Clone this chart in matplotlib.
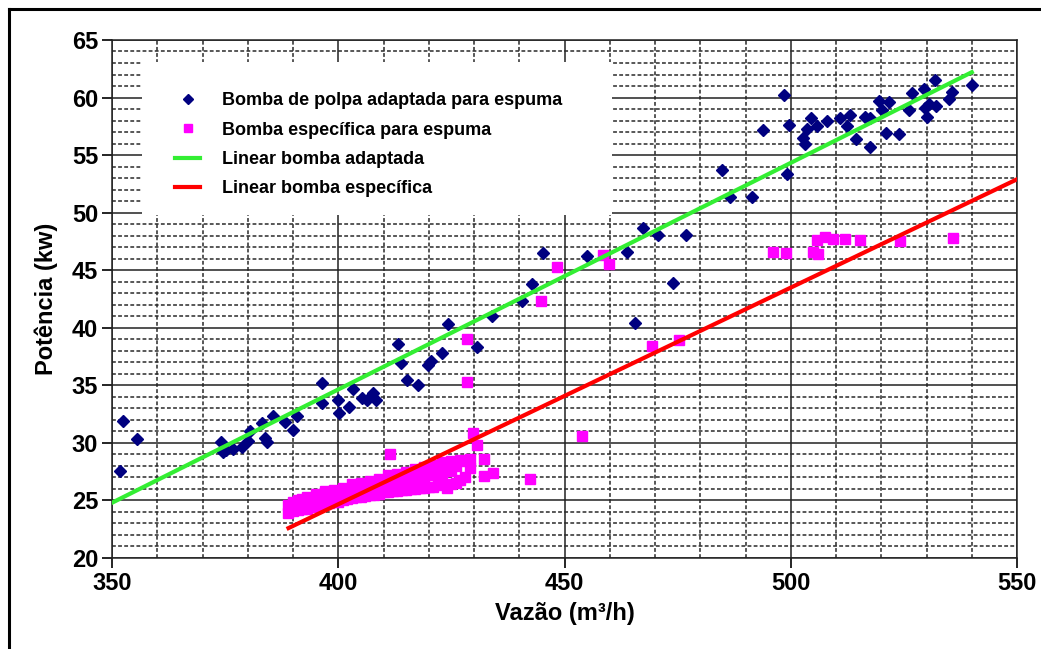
import numpy as np
import matplotlib.pyplot as plt
from matplotlib.lines import Line2D
from matplotlib.patches import Rectangle
from matplotlib.ticker import MultipleLocator

plt.rcParams['font.family'] = ['Liberation Sans', 'DejaVu Sans']
plt.rcParams['font.weight'] = 'bold'

# Bomba de polpa adaptada (blue diamonds)
adapt_x = [351.8, 352.4, 355.5, 374.1, 374.6, 375.3, 376.8, 378.7, 380.1, 380.5,
           383.1, 383.8, 384.2, 385.6, 388.2, 390.1, 390.8, 396.5, 396.3, 399.9,
           400.2, 402.3, 403.2, 405.2, 406.3, 407.6, 408.3, 413.3, 413.8, 415.1,
           417.7, 419.9, 420.6, 422.9, 424.3, 430.6, 433.9, 440.5, 442.9, 445.2,
           454.9, 463.7, 465.6, 467.3, 470.7, 474.0, 476.9, 484.9, 486.6, 491.4,
           493.9, 498.4, 499.1, 499.7, 502.6, 503.1, 503.5, 504.4, 505.7, 507.9,
           510.9, 512.5, 513.1, 514.4, 516.4, 517.5, 517.4, 519.6, 520.1, 521.8,
           521.1, 524.0, 526.2, 526.8, 529.5, 529.7, 530.0, 530.5, 532.0, 531.8,
           535.0, 535.6, 540.0]
adapt_y = [27.6, 31.9, 30.3, 30.1, 29.2, 29.4, 29.5, 29.6, 30.2, 31.0,
           31.7, 30.4, 30.1, 32.3, 31.8, 31.1, 32.3, 35.2, 33.5, 33.7,
           32.6, 33.1, 34.7, 33.9, 33.7, 34.3, 33.7, 38.6, 36.9, 35.5,
           35.0, 36.8, 37.1, 37.8, 40.3, 38.3, 41.0, 42.3, 43.8, 46.5,
           46.2, 46.6, 40.4, 48.7, 48.1, 43.9, 48.1, 53.7, 51.4, 51.4,
           57.2, 60.2, 53.4, 57.6, 56.5, 56.0, 57.3, 58.2, 57.5, 58.0,
           58.2, 57.5, 58.5, 56.4, 58.3, 58.2, 55.7, 59.7, 58.9, 59.6,
           56.9, 56.8, 58.9, 60.4, 60.7, 59.1, 58.3, 59.4, 59.3, 61.5,
           59.9, 60.5, 61.1]

# Bomba especifica (magenta squares): dense band + scattered points
spec_x = [389, 389, 390, 390, 391, 391, 391, 392, 392, 393, 393, 393,
          394, 394, 395, 395, 395, 396, 396, 397, 397, 397, 398, 398,
          399, 399, 399, 400, 400, 401, 401, 401, 402, 402, 403, 403, 403,
          404, 404, 405, 405, 405, 406, 406, 407, 407, 407, 408, 408,
          409, 409, 409, 410, 410, 411, 411, 411, 412, 412, 413, 413, 413,
          414, 414, 415, 415, 415, 416, 416, 417, 417, 417, 418, 418,
          419, 419, 419, 420, 420, 421, 421, 421, 422, 422, 423, 423, 423,
          424, 424, 425, 425, 425, 426, 426, 427, 427, 428, 428, 429, 429,
          411.5, 428.5, 428.5, 429.7, 430.6, 432.1, 432.1, 434.3, 442.4, 444.9,
          448.3, 453.8, 458.6, 459.9, 469.4, 475.2, 496.0, 499.0, 505.0, 506.0,
          505.7, 507.6, 509.4, 512.0, 515.3, 524.1, 535.8]
spec_y = [23.9, 24.6, 24.1, 24.9, 24.2, 24.6, 25.0, 24.3, 25.1, 24.3, 24.8, 25.3,
          24.4, 25.2, 24.5, 25.0, 25.6, 24.6, 25.5, 24.7, 25.2, 25.8, 24.8, 25.6,
          24.9, 25.4, 25.9, 24.9, 25.8, 25.0, 25.5, 26.1, 25.1, 25.9, 25.2, 25.7, 26.4,
          25.3, 26.2, 25.3, 25.9, 26.5, 25.4, 26.3, 25.5, 26.0, 26.7, 25.5, 26.5,
          25.6, 26.2, 26.9, 25.7, 26.6, 25.7, 26.3, 27.2, 25.8, 26.8, 25.8, 26.5, 27.3,
          25.9, 27.0, 25.9, 26.6, 27.5, 26.0, 27.1, 26.0, 26.8, 27.7, 26.1, 27.3,
          26.1, 27.0, 27.9, 26.2, 27.5, 26.2, 27.2, 28.1, 26.3, 27.7, 26.4, 27.4, 28.3,
          26.1, 27.8, 26.4, 27.6, 28.4, 26.5, 28.0, 26.8, 28.5, 27.0, 28.4, 27.8, 28.6,
          29.0, 39.0, 35.3, 30.9, 29.8, 28.6, 27.1, 27.4, 26.9, 42.3,
          45.3, 30.6, 46.3, 45.5, 38.4, 38.9, 46.6, 46.5, 46.6, 46.4,
          47.6, 47.9, 47.7, 47.7, 47.6, 47.5, 47.8]

# linear trend lines (end points)
lin_adapt_x = [350, 540]
lin_adapt_y = [24.8, 62.2]
lin_spec_x = [389, 550]
lin_spec_y = [22.6, 52.9]

fig = plt.figure(figsize=(10.41, 6.49), dpi=100)
ax = fig.add_axes([0.1076, 0.1402, 0.8694, 0.7982])

ax.plot(adapt_x, adapt_y, 'D', color='#000080', ms=6.5, mec='#000080',
        label='Bomba de polpa adaptada para espuma', zorder=3)
ax.plot(spec_x, spec_y, 's', color='#ff00ff', ms=7, mec='#ff00ff',
        label='Bomba específica para espuma', zorder=3)
ax.plot(lin_adapt_x, lin_adapt_y, '-', color='#33ee33', lw=3,
        label='Linear bomba adaptada', zorder=4)
ax.plot(lin_spec_x, lin_spec_y, '-', color='#ff0000', lw=3,
        label='Linear bomba específica', zorder=4)

ax.set_xlim(350, 550)
ax.set_ylim(20, 65)
ax.xaxis.set_major_locator(MultipleLocator(50))
ax.xaxis.set_minor_locator(MultipleLocator(10))
ax.yaxis.set_major_locator(MultipleLocator(5))
ax.yaxis.set_minor_locator(MultipleLocator(1))
ax.set_axisbelow(True)
ax.grid(which='major', color='#222222', lw=1.1, ls='-')
ax.grid(which='minor', color='#2a2a2a', lw=1.1, ls=(0, (2.5, 1.5)))
ax.tick_params(which='major', direction='out', length=7, width=1.2,
               labelsize=17, pad=3)
ax.tick_params(which='minor', length=0)
for s in ax.spines.values():
    s.set_color('#222222')
    s.set_linewidth(1.1)
for lab in ax.get_xticklabels() + ax.get_yticklabels():
    lab.set_fontweight('bold')

ax.set_xlabel('Vazão (m³/h)', fontsize=17, fontweight='bold', labelpad=5)
ax.set_ylabel('Potência (kw)', fontsize=17, fontweight='bold', labelpad=10)

# white box behind the legend
ax.add_patch(Rectangle((0.0331, 0.662), 0.5194, 0.2955, transform=ax.transAxes,
                       facecolor='white', edgecolor='none', zorder=4.5))
leg = ax.legend(loc='upper left', bbox_to_anchor=(0.0696, 0.899),
                fontsize=13, frameon=False, borderpad=0,
                labelspacing=0.68, handlelength=1.4, handletextpad=1.2,
                borderaxespad=0, markerscale=0.75, numpoints=1)
leg.set_zorder(5)
for t in leg.get_texts():
    t.set_fontweight('bold')

# outer frame lines (left and top)
fig.add_artist(Line2D([9 / 1041, 9 / 1041], [0, 1 - 9 / 649],
                      transform=fig.transFigure, color='black', lw=2.2))
fig.add_artist(Line2D([9 / 1041, 1], [1 - 9 / 649, 1 - 9 / 649],
                      transform=fig.transFigure, color='black', lw=2.2))

fig.savefig('out.png', dpi=100)
